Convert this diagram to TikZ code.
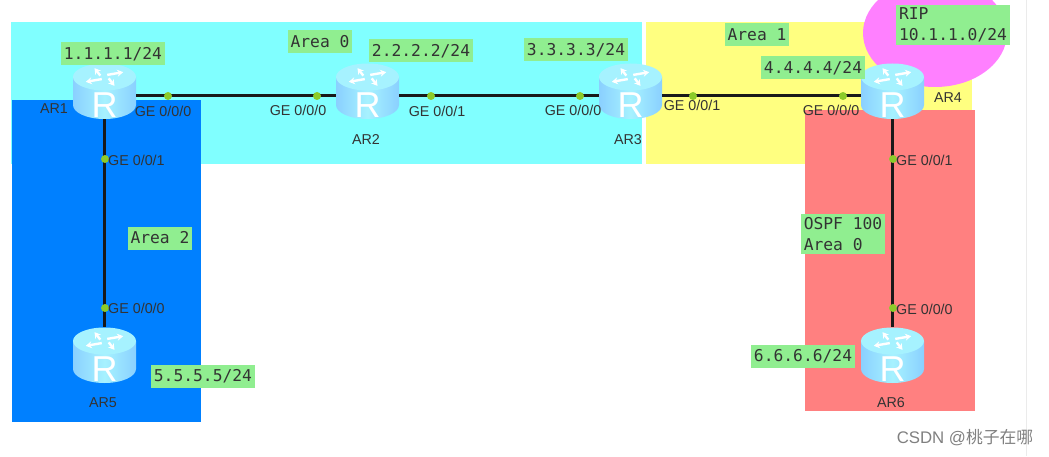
\documentclass[tikz,border=0pt]{standalone}
\usepackage{fontspec}
\setmainfont{Liberation Sans}
\setmonofont{DejaVu Sans Mono}
\newfontfamily\cjk{Noto Sans CJK SC}
\usetikzlibrary{arrows.meta}
\definecolor{areacyan}{HTML}{80FFFF}
\definecolor{areablue}{HTML}{0080FF}
\definecolor{areayellow}{HTML}{FFFF80}
\definecolor{areared}{HTML}{FF8080}
\definecolor{areapink}{HTML}{FF80FF}
\definecolor{labelgreen}{HTML}{90EE90}
\definecolor{portgreen}{HTML}{8CCB2A}
\definecolor{routerside}{HTML}{8AD0FF}
\definecolor{routertop}{HTML}{A6F2FF}
\tikzset{
  routerbox/.style={minimum width=63pt,minimum height=56pt,inner sep=0pt},
  iplabel/.style={fill=labelgreen,font=\ttfamily\fontsize{16.3}{20.5}\selectfont,text=black!80,inner xsep=3pt,inner ysep=3.5pt,minimum height=23pt,align=left},
  portlabel/.style={font=\fontsize{14.3}{16}\selectfont,text=black!80,inner sep=0pt},
  portdot/.style={circle,fill=portgreen,minimum size=8pt,inner sep=0pt},
  link/.style={line width=3pt,black!90},
}
\begin{document}
\begin{tikzpicture}[x=1pt,y=1pt]
\useasboundingbox (0,0) rectangle (1049,456);
\begin{scope}
\clip (0,0) rectangle (1049,456);
% areas
\fill[areacyan] (11,434) rectangle (642,292);
\fill[areablue] (12,356) rectangle (201,34);
\fill[areayellow] (646,434) rectangle (972,292);
\fill[areared] (805,346) rectangle (975,45);
\fill[areapink] (935,423) ellipse [x radius=72,y radius=54];
\end{scope}
\draw[black!8] (1026,0) -- (1026,456);
% routers
\foreach \n/\x/\y in {AR1/104.5/365,AR2/367.5/365,AR3/630.5/365,AR4/892.5/365,AR5/104.5/101,AR6/892.5/101}{
  \node[routerbox] (\n) at (\x,\y) {};
  \begin{scope}[shift={(\x,\y)}]
    \shade[left color=routerside,right color=routerside,middle color=routertop]
      (-31.5,14) -- (-31.5,-14) arc[start angle=180,end angle=360,x radius=31.5,y radius=14] -- (31.5,14) -- cycle;
    \fill[routertop] (0,14) ellipse [x radius=31.5,y radius=13.5];
    \foreach \a in {20,110,200,290}
      \draw[white,line width=2.4pt,-{Stealth[length=6pt,width=7pt]}] (0,14)++(\a:4pt and 2pt)++(\a+90:3pt and 1.5pt) -- ++(\a:17pt and 8pt);
    \node[white,font=\fontsize{36}{36}\selectfont,inner sep=0pt] at (0,-14) {R};
  \end{scope}
}
% links
\draw[link] ([yshift=-5pt]AR1.east) -- ([yshift=-5pt]AR2.west);
\draw[link] ([yshift=-5pt]AR2.east) -- ([yshift=-5pt]AR3.west);
\draw[link] ([yshift=-5pt]AR3.east) -- ([yshift=-5pt]AR4.west);
\draw[link] (AR1.south) -- (AR5.north);
\draw[link] (AR4.south) -- (AR6.north);
% ports
\foreach \n/\x/\y in {p1/168/360,p2/317/360,p3/431/360,p4/580/360,p5/693/360,p6/843/360,p7/105/297,p8/105/148,p9/893/297,p10/893/148}
  \node[portdot] (\n) at (\x,\y) {};
\node[portlabel] at (163,345) {GE 0/0/0};
\node[portlabel] at (298,346) {GE 0/0/0};
\node[portlabel] at (437,345) {GE 0/0/1};
\node[portlabel] at (573,346) {GE 0/0/0};
\node[portlabel] at (692,351) {GE 0/0/1};
\node[portlabel] at (831,346) {GE 0/0/0};
\node[portlabel,right] at (108,296) {GE 0/0/1};
\node[portlabel,right] at (108,148) {GE 0/0/0};
\node[portlabel,right] at (896,296) {GE 0/0/1};
\node[portlabel,right] at (896,147) {GE 0/0/0};
% router names
\node[portlabel] at (54,347) {AR1};
\node[portlabel] at (366,316) {AR2};
\node[portlabel] at (628,316) {AR3};
\node[portlabel] at (948,358) {AR4};
\node[portlabel] at (103,53) {AR5};
\node[portlabel] at (891,53) {AR6};
% labels
\node[iplabel] (ip1) at (113,402) {1.1.1.1/24};
\node[iplabel] (ip2) at (421,405) {2.2.2.2/24};
\node[iplabel] (ip3) at (576,406) {3.3.3.3/24};
\node[iplabel] (ip4) at (813,388) {4.4.4.4/24};
\node[iplabel] (ip5) at (203,80) {5.5.5.5/24};
\node[iplabel] (ip6) at (803,100) {6.6.6.6/24};
\node[iplabel] (area0) at (320,414) {Area 0};
\node[iplabel] (area1) at (757,421) {Area 1};
\node[iplabel] (area2) at (160,218) {Area 2};
\node[iplabel] (ospf) at (843,222) {OSPF 100\\Area 0};
\node[iplabel] (rip) at (953,431) {RIP\\10.1.1.0/24};
\node[text=black!50,font=\fontsize{16.8}{19}\selectfont,inner sep=0pt] (mark) at (965,18) {CSDN @{\cjk 桃子在哪}};
\end{tikzpicture}
\end{document}
